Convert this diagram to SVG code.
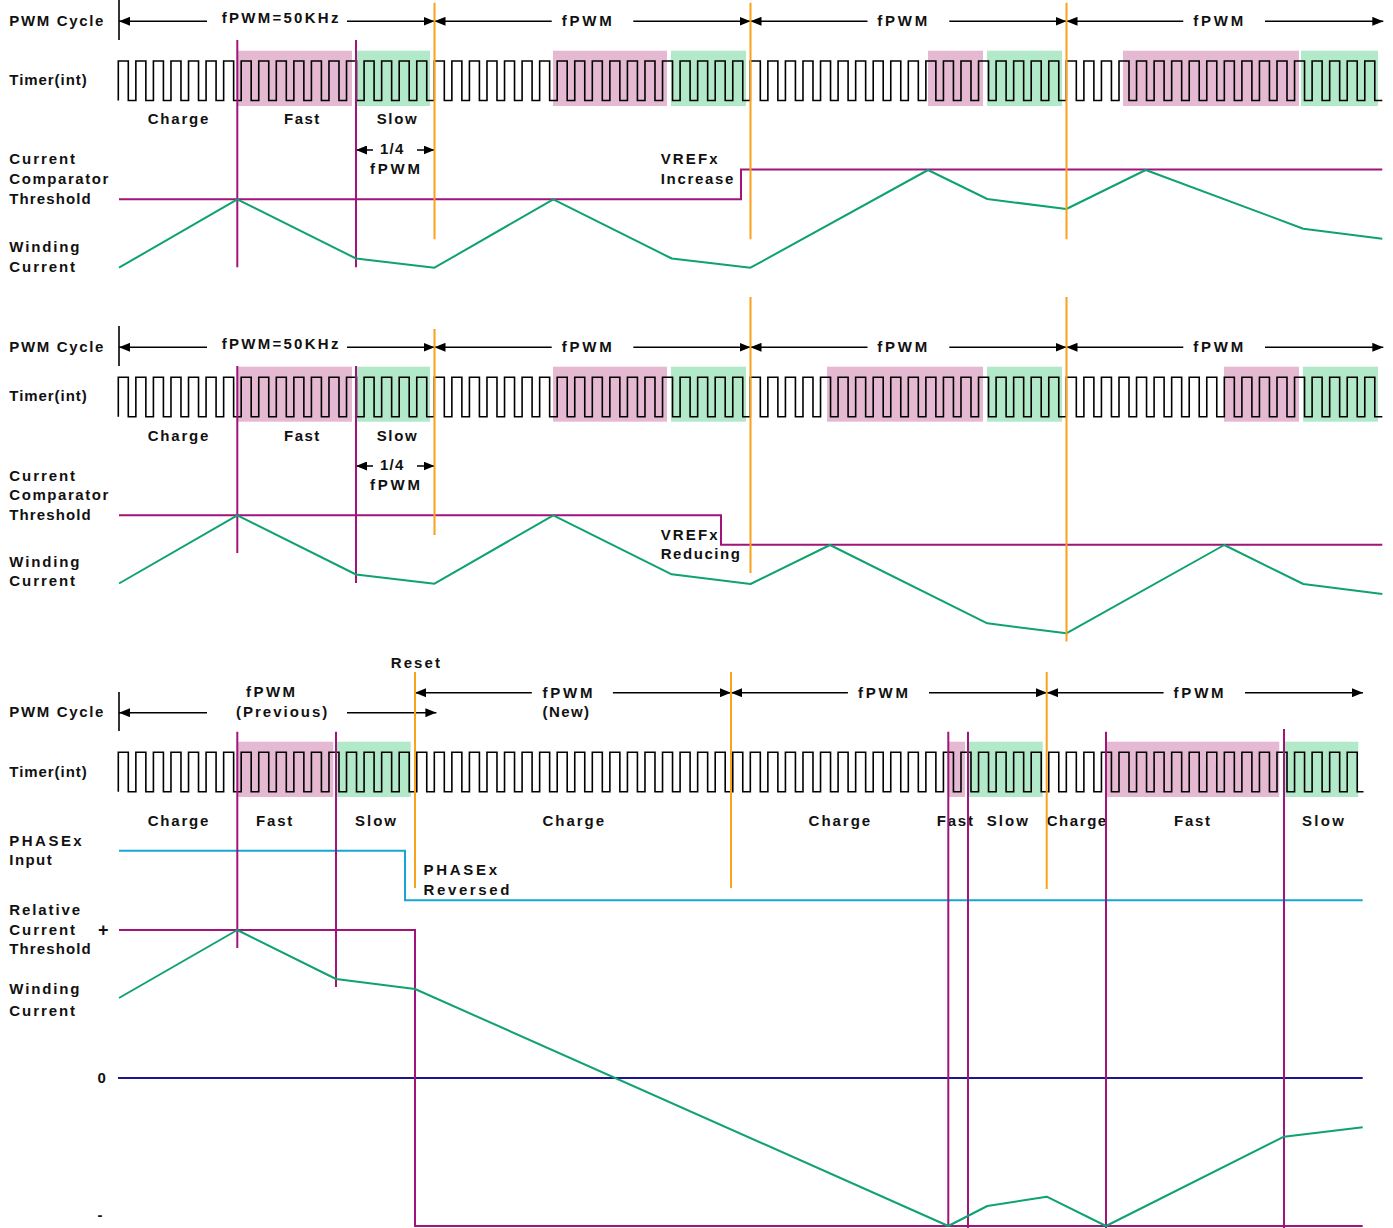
<svg xmlns="http://www.w3.org/2000/svg" xmlns:xlink="http://www.w3.org/1999/xlink" width="1393" height="1228" viewBox="0 0 1393 1228">
<style>
.t{font-family:"Liberation Sans",Arial,sans-serif;font-weight:bold;font-size:15px;fill:#111;}
.ar{stroke:#000;stroke-width:1.5;fill:none;marker-end:url(#ah);}
.tk{stroke:#000;stroke-width:1.6;fill:none;}
.tm{stroke:#000;stroke-width:1.6;fill:none;stroke-linejoin:miter;}
.pk{fill:#e6b9d3;}
.gn{fill:#b2e9c8;}
.pu{stroke:#a1157a;stroke-width:2;fill:none;}
.or{stroke:#f9a21b;stroke-width:2;fill:none;}
.wc{stroke:#0fa271;stroke-width:2;fill:none;stroke-linejoin:round;}
.cy{stroke:#17a5d5;stroke-width:2;fill:none;}
.nv{stroke:#1b1690;stroke-width:2;fill:none;}
</style>
<defs>
<marker id="ah" viewBox="0 0 11 9" refX="11" refY="4.5" markerWidth="11" markerHeight="9" markerUnits="userSpaceOnUse" orient="auto"><path d="M0,0L11,4.5L0,9z" fill="#000"/></marker>
<path id="timer" d="M118.3,100.5
v-39.5h10v39.5h7.556v-39.5h10v39.5h7.556v-39.5h10v39.5h7.556v-39.5h10v39.5h7.556v-39.5h10v39.5h7.556v-39.5h10v39.5h7.556v-39.5h10v39.5h7.556v-39.5h10v39.5h7.556
v-39.5h10v39.5h7.556v-39.5h10v39.5h7.556v-39.5h10v39.5h7.556v-39.5h10v39.5h7.556v-39.5h10v39.5h7.556v-39.5h10v39.5h7.556v-39.5h10v39.5h7.556v-39.5h10v39.5h7.556
v-39.5h10v39.5h7.556v-39.5h10v39.5h7.556v-39.5h10v39.5h7.556v-39.5h10v39.5h7.556v-39.5h10v39.5h7.556v-39.5h10v39.5h7.556v-39.5h10v39.5h7.556v-39.5h10v39.5h7.556
v-39.5h10v39.5h7.556v-39.5h10v39.5h7.556v-39.5h10v39.5h7.556v-39.5h10v39.5h7.556v-39.5h10v39.5h7.556v-39.5h10v39.5h7.556v-39.5h10v39.5h7.556v-39.5h10v39.5h7.556
v-39.5h10v39.5h7.556v-39.5h10v39.5h7.556v-39.5h10v39.5h7.556v-39.5h10v39.5h7.556v-39.5h10v39.5h7.556v-39.5h10v39.5h7.556v-39.5h10v39.5h7.556v-39.5h10v39.5h7.556
v-39.5h10v39.5h7.556v-39.5h10v39.5h7.556v-39.5h10v39.5h7.556v-39.5h10v39.5h7.556v-39.5h10v39.5h7.556v-39.5h10v39.5h7.556v-39.5h10v39.5h7.556v-39.5h10v39.5h7.556
v-39.5h10v39.5h7.556v-39.5h10v39.5h7.556v-39.5h10v39.5h7.556v-39.5h10v39.5h7.556v-39.5h10v39.5h7.556v-39.5h10v39.5h7.556v-39.5h10v39.5h7.556v-39.5h10v39.5h7.556
v-39.5h10v39.5h7.556v-39.5h10v39.5h7.556v-39.5h10v39.5h7.556v-39.5h10v39.5h7.556v-39.5h10v39.5h7.556v-39.5h10v39.5h7.556v-39.5h10v39.5h7.556v-39.5h10v39.5h7.556
v-39.5h10v39.5h7.556v-39.5h10v39.5h7.556v-39.5h10v39.5h7.556v-39.5h10v39.5h7.556v-39.5h10v39.5h7.556v-39.5h10v39.5h7.556v-39.5h10v39.5h7.556v-39.5h10v39.5h7.556"/>
<clipPath id="clip3"><rect x="0" y="600" width="1363.5" height="300"/></clipPath>
</defs>
<rect width="1393" height="1228" fill="#fff"/>

<!-- ================= PANEL 1 ================= -->
<g id="panel1">
 <g id="p1-shading">
  <rect class="pk" x="238" y="50.7" width="114" height="55.3"/>
  <rect class="gn" x="357" y="50.7" width="73" height="55.3"/>
  <rect class="pk" x="553" y="50.7" width="114" height="55.3"/>
  <rect class="gn" x="671" y="50.7" width="75" height="55.3"/>
  <rect class="pk" x="928" y="50.7" width="55" height="55.3"/>
  <rect class="gn" x="987" y="50.7" width="75" height="55.3"/>
  <rect class="pk" x="1123" y="50.7" width="176" height="55.3"/>
  <rect class="gn" x="1301" y="50.7" width="77" height="55.3"/>
 </g>
 <use id="p1-timer" xlink:href="#timer" class="tm"/>
 <g id="p1-labels">
  <text class="t" x="9.3" y="26" textLength="94" lengthAdjust="spacing">PWM Cycle</text>
  <text class="t" x="221.7" y="22.7" textLength="116.7" lengthAdjust="spacing">fPWM=50KHz</text>
  <text class="t" x="561.7" y="26" textLength="50" lengthAdjust="spacing">fPWM</text>
  <text class="t" x="877.3" y="26" textLength="50" lengthAdjust="spacing">fPWM</text>
  <text class="t" x="1193.3" y="26" textLength="50" lengthAdjust="spacing">fPWM</text>
  <text class="t" x="9.3" y="84.5" textLength="77.4" lengthAdjust="spacing">Timer(int)</text>
  <text class="t" x="147.7" y="124.3" textLength="60.7" lengthAdjust="spacing">Charge</text>
  <text class="t" x="284" y="124.3" textLength="35.3" lengthAdjust="spacing">Fast</text>
  <text class="t" x="376.7" y="124.3" textLength="40" lengthAdjust="spacing">Slow</text>
  <text class="t" x="380" y="154.3" textLength="23.3" lengthAdjust="spacing">1/4</text>
  <text class="t" x="370" y="174" textLength="50" lengthAdjust="spacing">fPWM</text>
  <text class="t" x="9.3" y="164.3" textLength="65.7" lengthAdjust="spacing">Current</text>
  <text class="t" x="9.3" y="184.3" textLength="99" lengthAdjust="spacing">Comparator</text>
  <text class="t" x="9.3" y="204" textLength="81.4" lengthAdjust="spacing">Threshold</text>
  <text class="t" x="9.3" y="252.3" textLength="70" lengthAdjust="spacing">Winding</text>
  <text class="t" x="9.3" y="271.7" textLength="65.7" lengthAdjust="spacing">Current</text>
  <text class="t" x="660.7" y="164.3" textLength="57" lengthAdjust="spacing">VREFx</text>
  <text class="t" x="660.7" y="184" textLength="72.6" lengthAdjust="spacing">Increase</text>
 </g>
</g>

<!-- ================= PANEL 2 ================= -->
<g id="panel2">
 <g id="p2-shading">
  <rect class="pk" x="238" y="366.7" width="114" height="55"/>
  <rect class="gn" x="357" y="366.7" width="73" height="55"/>
  <rect class="pk" x="553" y="366.7" width="114" height="55"/>
  <rect class="gn" x="671" y="366.7" width="75" height="55"/>
  <rect class="pk" x="827" y="366.7" width="156" height="55"/>
  <rect class="gn" x="987" y="366.7" width="75" height="55"/>
  <rect class="pk" x="1224" y="366.7" width="75" height="55"/>
  <rect class="gn" x="1303" y="366.7" width="75" height="55"/>
 </g>
 <use id="p2-timer" xlink:href="#timer" class="tm" transform="translate(0,316.2)"/>
 <g id="p2-labels">
  <text class="t" x="9.3" y="352" textLength="94" lengthAdjust="spacing">PWM Cycle</text>
  <text class="t" x="221.7" y="348.5" textLength="116.7" lengthAdjust="spacing">fPWM=50KHz</text>
  <text class="t" x="561.7" y="352" textLength="50" lengthAdjust="spacing">fPWM</text>
  <text class="t" x="877.3" y="352" textLength="50" lengthAdjust="spacing">fPWM</text>
  <text class="t" x="1193.3" y="352" textLength="50" lengthAdjust="spacing">fPWM</text>
  <text class="t" x="9.3" y="400.5" textLength="77.4" lengthAdjust="spacing">Timer(int)</text>
  <text class="t" x="147.7" y="440.5" textLength="60.7" lengthAdjust="spacing">Charge</text>
  <text class="t" x="284" y="440.5" textLength="35.3" lengthAdjust="spacing">Fast</text>
  <text class="t" x="376.7" y="440.5" textLength="40" lengthAdjust="spacing">Slow</text>
  <text class="t" x="380" y="470.3" textLength="23.3" lengthAdjust="spacing">1/4</text>
  <text class="t" x="370" y="490" textLength="50" lengthAdjust="spacing">fPWM</text>
  <text class="t" x="9.3" y="481" textLength="65.7" lengthAdjust="spacing">Current</text>
  <text class="t" x="9.3" y="500.3" textLength="99" lengthAdjust="spacing">Comparator</text>
  <text class="t" x="9.3" y="520" textLength="81.4" lengthAdjust="spacing">Threshold</text>
  <text class="t" x="9.3" y="566.5" textLength="70" lengthAdjust="spacing">Winding</text>
  <text class="t" x="9.3" y="586" textLength="65.7" lengthAdjust="spacing">Current</text>
  <text class="t" x="660.7" y="540" textLength="57" lengthAdjust="spacing">VREFx</text>
  <text class="t" x="660.7" y="559" textLength="79.3" lengthAdjust="spacing">Reducing</text>
 </g>
</g>

<!-- ================= PANEL 3 ================= -->
<g id="panel3">
 <g id="p3-shading">
  <rect class="pk" x="237.3" y="741.7" width="96" height="55.3"/>
  <rect class="gn" x="336" y="741.7" width="74.7" height="55.3"/>
  <rect class="pk" x="948.3" y="741.7" width="16.7" height="55.3"/>
  <rect class="gn" x="968.3" y="741.7" width="74.4" height="55.3"/>
  <rect class="pk" x="1106.7" y="741.7" width="172.6" height="55.3"/>
  <rect class="gn" x="1285" y="741.7" width="73.3" height="55.3"/>
 </g>
 <g clip-path="url(#clip3)">
  <use id="p3-timer" xlink:href="#timer" class="tm" transform="translate(0,691.2)"/>
 </g>
 <g id="p3-labels">
  <text class="t" x="390.7" y="668.3" textLength="49.3" lengthAdjust="spacing">Reset</text>
  <text class="t" x="9.3" y="717.3" textLength="94" lengthAdjust="spacing">PWM Cycle</text>
  <text class="t" x="246" y="697.3" textLength="49" lengthAdjust="spacing">fPWM</text>
  <text class="t" x="236" y="716.5" textLength="91.3" lengthAdjust="spacing">(Previous)</text>
  <text class="t" x="542.5" y="697.5" textLength="50" lengthAdjust="spacing">fPWM</text>
  <text class="t" x="542.5" y="716.5" textLength="46.5" lengthAdjust="spacing">(New)</text>
  <text class="t" x="857.9" y="697.5" textLength="50" lengthAdjust="spacing">fPWM</text>
  <text class="t" x="1173.6" y="697.5" textLength="50" lengthAdjust="spacing">fPWM</text>
  <text class="t" x="9.3" y="776.5" textLength="77.4" lengthAdjust="spacing">Timer(int)</text>
  <text class="t" x="147.7" y="826" textLength="60.7" lengthAdjust="spacing">Charge</text>
  <text class="t" x="256" y="826" textLength="36.3" lengthAdjust="spacing">Fast</text>
  <text class="t" x="355" y="826" textLength="41" lengthAdjust="spacing">Slow</text>
  <text class="t" x="542.5" y="826" textLength="61.5" lengthAdjust="spacing">Charge</text>
  <text class="t" x="808.6" y="826" textLength="61.5" lengthAdjust="spacing">Charge</text>
  <text class="t" x="936.7" y="826" textLength="36.3" lengthAdjust="spacing">Fast</text>
  <text class="t" x="986.7" y="826" textLength="41.3" lengthAdjust="spacing">Slow</text>
  <text class="t" x="1046.7" y="826" textLength="59.5" lengthAdjust="spacing">Charge</text>
  <text class="t" x="1174" y="826" textLength="36" lengthAdjust="spacing">Fast</text>
  <text class="t" x="1302" y="826" textLength="42" lengthAdjust="spacing">Slow</text>
  <text class="t" x="9.3" y="846" textLength="72.4" lengthAdjust="spacing">PHASEx</text>
  <text class="t" x="9.3" y="865" textLength="42.4" lengthAdjust="spacing">Input</text>
  <text class="t" x="423.6" y="875" textLength="73.4" lengthAdjust="spacing">PHASEx</text>
  <text class="t" x="423.6" y="895" textLength="85.7" lengthAdjust="spacing">Reversed</text>
  <text class="t" x="9.3" y="915" textLength="70.7" lengthAdjust="spacing">Relative</text>
  <text class="t" x="9.3" y="935" textLength="65.7" lengthAdjust="spacing">Current</text>
  <text class="t" x="103.3" y="936" text-anchor="middle" style="font-size:18px">+</text>
  <text class="t" x="9.3" y="954" textLength="81.4" lengthAdjust="spacing">Threshold</text>
  <text class="t" x="9.3" y="994.3" textLength="70" lengthAdjust="spacing">Winding</text>
  <text class="t" x="9.3" y="1016" textLength="65.7" lengthAdjust="spacing">Current</text>
  <text class="t" x="97.5" y="1083">0</text>
  <text class="t" x="97.5" y="1219.5">-</text>
 </g>
</g>

<!-- ================= CONNECTORS / SIGNAL LINES ================= -->
<g id="connectors">
 <!-- panel 1 -->
 <path class="tk" d="M119,0V40"/>
 <path class="ar" d="M207,21.3H119"/>
 <path class="ar" d="M347,21.3H434.5"/>
 <path class="ar" d="M551.7,21.3H434.5"/>
 <path class="ar" d="M633.3,21.3H750.5"/>
 <path class="ar" d="M867.5,21.3H750.5"/>
 <path class="ar" d="M949.3,21.3H1066.5"/>
 <path class="ar" d="M1183.3,21.3H1066.5"/>
 <path class="ar" d="M1265,21.3H1383.3"/>
 <path class="ar" d="M373,150H356"/>
 <path class="ar" d="M417,150H434.5"/>
 <path class="pu" d="M119,199.3H741V169.5H1382.3"/>
 <path class="pu" d="M237.3,40V267.3M356,40V267.3"/>
 <path class="wc" d="M119,267.7L237.3,199.3L356,258.5L434.5,267.7L553.3,199.3L671.7,258.5L750.5,267.7L928,170L987.3,199L1066.3,209L1145.7,170L1303.3,228.7L1382.3,238.7"/>
 <path class="or" d="M434.5,2.7V239.3M750.5,2.7V239.3M1066.5,2.7V239.3"/>

 <!-- panel 2 -->
 <path class="tk" d="M119,326V366"/>
 <path class="ar" d="M207,347.3H119"/>
 <path class="ar" d="M347,347.3H434.5"/>
 <path class="ar" d="M551.7,347.3H434.5"/>
 <path class="ar" d="M633.3,347.3H750.5"/>
 <path class="ar" d="M867.5,347.3H750.5"/>
 <path class="ar" d="M949.3,347.3H1066.5"/>
 <path class="ar" d="M1183.3,347.3H1066.5"/>
 <path class="ar" d="M1265,347.3H1383.3"/>
 <path class="ar" d="M373,466H356"/>
 <path class="ar" d="M417,466H434.5"/>
 <path class="pu" d="M119,515.3H721V544.7H1382.3"/>
 <path class="pu" d="M237.3,366V553M356,366V583"/>
 <path class="wc" d="M119,583.5L237.3,515.3L356,574.5L434.5,583.7L553.3,515.3L671.7,574.3L750.5,584L830,545L987.3,623.3L1066.3,633.3L1224.3,545L1303.3,584L1382.3,594"/>
 <path class="or" d="M434.5,329V535M750.5,297V573M1066.5,297V641.5"/>

 <!-- panel 3 -->
 <path class="tk" d="M119,692V731"/>
 <path class="ar" d="M207,712.7H119"/>
 <path class="ar" d="M347,712.7H436.4"/>
 <path class="ar" d="M531.8,692.7H415"/>
 <path class="ar" d="M612.9,692.7H731"/>
 <path class="ar" d="M847.9,692.7H731"/>
 <path class="ar" d="M929,692.7H1047"/>
 <path class="ar" d="M1163.6,692.7H1047"/>
 <path class="ar" d="M1245,692.7H1363"/>
 <path class="cy" d="M119,850.7H405V900.3H1362.7"/>
 <path class="nv" d="M118,1078H1362.7"/>
 <path class="pu" d="M119,930H415V1226H1362.7"/>
 <path class="pu" d="M237.3,731.7V948M336,731.7V987M948.3,731.7V1226M968,731.7V1228M1106,731.7V1228M1284,729V1228"/>
 <path class="wc" d="M119,998L237.3,930L336,979L415,989L948.3,1226L987.3,1206L1046.7,1196.7L1106,1226L1284,1136.7L1362.7,1127.3"/>
 <path class="or" d="M415,672V888M731,672V888M1046.7,672V889"/>
</g>
</svg>
